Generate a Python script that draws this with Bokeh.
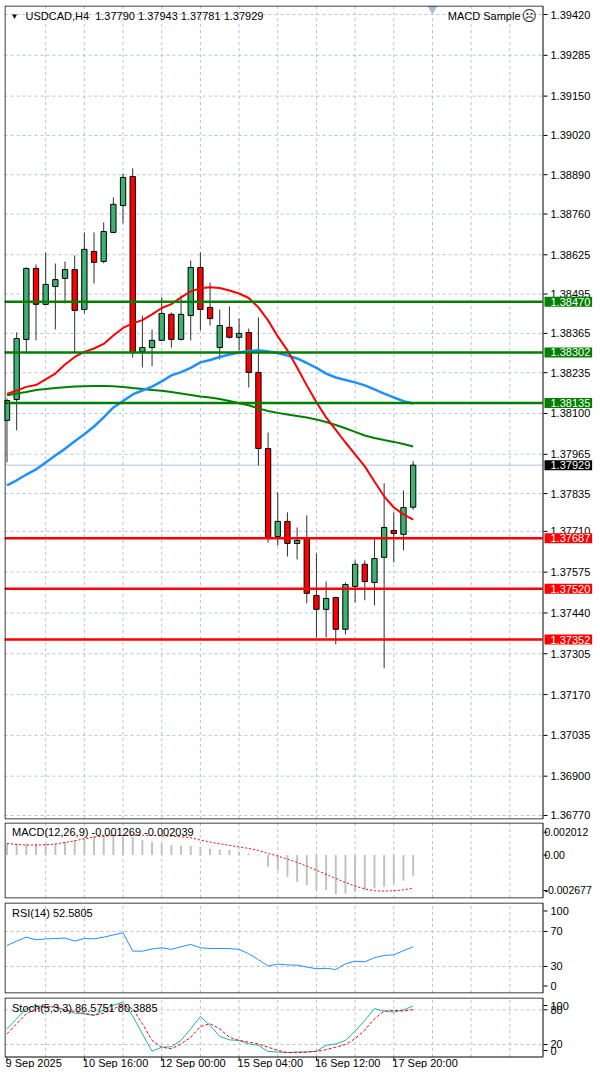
from bokeh.plotting import figure
from bokeh.layouts import column
from bokeh.models import ColumnDataSource, FixedTicker, Label, Range1d, PrintfTickFormatter
from bokeh.embed import file_html
from bokeh.resources import INLINE
from bokeh.core.properties import value

# ---------------- data ----------------
symbol = "USDCAD,H4"
last_ohlc = [1.37790, 1.37943, 1.37781, 1.37929]

opens = [1.38077, 1.38146, 1.38345, 1.38580, 1.38461, 1.38520, 1.38547, 1.38576, 1.38444, 1.38636,
         1.38603, 1.38699, 1.38788, 1.38884, 1.38305, 1.38318, 1.38342, 1.38428, 1.38345, 1.38424,
         1.38583, 1.38451, 1.38318, 1.38385, 1.38352, 1.38368, 1.38236, 1.37984, 1.37693, 1.37743,
         1.37670, 1.37687, 1.37498, 1.37452, 1.37491, 1.37386, 1.37528, 1.37601, 1.37541, 1.37624,
         1.37713, 1.37700, 1.37790]
highs = [1.38150, 1.38368, 1.38583, 1.38593, 1.38633, 1.38596, 1.38603, 1.38623, 1.38699, 1.38699,
         1.38732, 1.38815, 1.38894, 1.38911, 1.38424, 1.38378, 1.38484, 1.38434, 1.38490, 1.38606,
         1.38633, 1.38533, 1.38444, 1.38454, 1.38414, 1.38381, 1.38418, 1.38037, 1.37839, 1.37773,
         1.37723, 1.37763, 1.37637, 1.37544, 1.37494, 1.37541, 1.37614, 1.37614, 1.37687, 1.37869,
         1.37773, 1.37845, 1.37943]
lows = [1.37938, 1.38044, 1.38302, 1.38342, 1.38458, 1.38378, 1.38464, 1.38302, 1.38431, 1.38530,
        1.38597, 1.38696, 1.38729, 1.38285, 1.38252, 1.38256, 1.38339, 1.38318, 1.38342, 1.38342,
        1.38375, 1.38391, 1.38279, 1.38348, 1.38309, 1.38186, 1.37928, 1.37673, 1.37663, 1.37627,
        1.37617, 1.37472, 1.37359, 1.37359, 1.37336, 1.37369, 1.37475, 1.37482, 1.37465, 1.37257,
        1.37607, 1.37647, 1.37781]
closes = [1.38143, 1.38348, 1.38580, 1.38461, 1.38527, 1.38543, 1.38576, 1.38441, 1.38643, 1.38600,
          1.38702, 1.38792, 1.38881, 1.38302, 1.38318, 1.38342, 1.38431, 1.38345, 1.38428, 1.38583,
          1.38444, 1.38414, 1.38391, 1.38352, 1.38365, 1.38236, 1.37984, 1.37690, 1.37743, 1.37670,
          1.37680, 1.37505, 1.37452, 1.37488, 1.37386, 1.37534, 1.37601, 1.37544, 1.37620, 1.37723,
          1.37703, 1.37789, 1.37929]

ma_red = [1.38165, 1.38176, 1.38188, 1.38194, 1.38213, 1.38232, 1.38262, 1.38287, 1.38304, 1.38315,
          1.38330, 1.38358, 1.38383, 1.38398, 1.38409, 1.38428, 1.38449, 1.38462, 1.38484, 1.38504,
          1.38514, 1.38518, 1.38515, 1.38507, 1.38497, 1.38482, 1.38451, 1.38408, 1.38355, 1.38309,
          1.38252, 1.38193, 1.38137, 1.38087, 1.38046, 1.38004, 1.37965, 1.37925, 1.37875, 1.37826,
          1.37789, 1.37766, 1.37749]
ma_blue = [1.37862, 1.37879, 1.37898, 1.37915, 1.37938, 1.37961, 1.37983, 1.38008, 1.38031, 1.38057,
           1.38087, 1.38120, 1.38141, 1.38163, 1.38176, 1.38189, 1.38206, 1.38226, 1.38237, 1.38251,
           1.38269, 1.38277, 1.38287, 1.38295, 1.38302, 1.38307, 1.38309, 1.38305, 1.38300, 1.38292,
           1.38282, 1.38267, 1.38251, 1.38232, 1.38219, 1.38211, 1.38203, 1.38193, 1.38180, 1.38166,
           1.38153, 1.38141, 1.38133]
ma_green = [1.38160, 1.38166, 1.38171, 1.38178, 1.38181, 1.38184, 1.38187, 1.38189, 1.38190, 1.38191,
            1.38191, 1.38190, 1.38188, 1.38184, 1.38181, 1.38178, 1.38175, 1.38171, 1.38166, 1.38161,
            1.38156, 1.38153, 1.38148, 1.38141, 1.38134, 1.38127, 1.38117, 1.38108, 1.38102, 1.38097,
            1.38092, 1.38087, 1.38080, 1.38072, 1.38062, 1.38051, 1.38039, 1.38027, 1.38019, 1.38012,
            1.38006, 1.37999, 1.37991]

green_levels = [1.38470, 1.38302, 1.38135]
red_levels = [1.37687, 1.37520, 1.37352]
bid = 1.37929

price_ticks = [1.39420, 1.39285, 1.39150, 1.39020, 1.38890, 1.38760, 1.38625, 1.38495, 1.38365,
               1.38235, 1.38100, 1.37965, 1.37835, 1.37710, 1.37575, 1.37440, 1.37305, 1.37170,
               1.37035, 1.36900, 1.36770]
price_lo, price_hi = 1.367567, 1.394498

macd_main = [0.00072, 0.00072, 0.00072, 0.00072, 0.00072, 0.00072, 0.00082, 0.00093, 0.00103, 0.00117,
             0.00123, 0.00123, 0.00123, 0.00113, 0.00093, 0.00082, 0.00072, 0.00062, 0.00056, 0.00056,
             0.00051, 0.00041, 0.00035, 0.00031, 0.00021, 0.00010, -0.00002, -0.00072, -0.00093, -0.00134,
             -0.00165, -0.00185, -0.00216, -0.00216, -0.00241, -0.00237, -0.00226, -0.00216, -0.00206,
             -0.00195, -0.00175, -0.00158, -0.001269]
macd_signal = [0.00072, 0.00066, 0.00062, 0.00062, 0.00064, 0.00068, 0.00078, 0.00088, 0.00101, 0.00111,
               0.00117, 0.00121, 0.00123, 0.00123, 0.00123, 0.00121, 0.00119, 0.00117, 0.00113, 0.00107,
               0.00093, 0.00080, 0.00070, 0.00060, 0.00051, 0.00041, 0.00029, 0.00010, -0.00006, -0.00025,
               -0.00045, -0.00068, -0.00093, -0.00119, -0.00144, -0.00169, -0.00191, -0.00208, -0.00220,
               -0.00222, -0.00220, -0.00214, -0.002039]
macd_hi, macd_lo = 0.002012, -0.002677
macd_tick_labels = ["0.002012", "0.00", "-0.002677"]

rsi = [54, 59, 63.5, 60.5, 61.5, 62, 62.5, 59, 62, 61.5, 63.5, 66, 68.5, 47.5, 47.5, 50, 51.4, 49.5,
       52.5, 55.2, 51.4, 50.5, 50.5, 50.5, 49.5, 44.5, 37.7, 30.5, 32.7, 31.8, 31.5, 29.3, 27.4, 27.9,
       26.5, 33, 36, 35.3, 40, 42.6, 43.3, 48, 52.5805]
rsi_levels = [70, 30]
rsi_tick_labels = ["100", "70", "30", "0"]

stoch_main = [47, 64.5, 82, 87.5, 85, 85, 80, 74, 73, 70, 80, 88, 93, 69, 38.5, 8.5, 15.4, 16, 27, 47,
              68.5, 53, 34, 28, 27, 21, 18.5, 8, 7, 6, 7, 7, 8.5, 18.5, 21, 27, 43, 61.6, 82, 77.7,
              76, 80, 86.5751]
stoch_signal = [38.5, 56, 73, 82, 85.6, 85, 80, 77, 74, 71, 74, 82, 87.5, 82, 56, 27, 15.4, 12.5, 21,
                32.5, 51, 56, 47, 32.5, 27, 24, 21, 15.4, 9.7, 6, 6, 7, 8, 11, 15.4, 20, 30, 45, 64.5,
                77.7, 79, 78, 80.3885]
stoch_levels = [80, 20]
stoch_tick_labels = ["100", "80", "20", "0"]

date_ticks = [0, 8, 16, 24, 32, 40]
date_labels = ["9 Sep 2025", "10 Sep 16:00", "12 Sep 00:00", "15 Sep 04:00", "16 Sep 12:00", "17 Sep 20:00"]

# ---------------- styling / geometry ----------------
FONT = "Liberation Sans"
GRID = "#B4C4DC"
BULL = "#3CB371"
BEAR = "#FF0000"
GREEN = "#008000"
RED = "#FF0000"

LEFT = 4                 # page x of the chart's left border
FIG_W = 592
FRAME_W = FIG_W - LEFT   # frame covers chart + price-scale column
PLOT_W = 538             # chart area, left of the price scale
BPP = 1 / 9.67           # bars per pixel
X0 = -0.2585
X_END = X0 + FRAME_W * BPP
x_range = Range1d(X0, X_END)
n = len(opens)
xs = list(range(n))
grid_x = list(range(4, 56, 4))


def xd(px):
    return X0 + px * BPP


XB = xd(PLOT_W)


def yd(lo, hi, fh, px):
    return hi - px * (hi - lo) / fh


def make_fig(fh, lo, hi, top, bottom, label_x=550, font_size="11px"):
    p = figure(frame_width=FRAME_W, frame_height=fh, x_range=x_range, y_range=Range1d(lo, hi),
               output_backend="svg", toolbar_location=None, title=None,
               x_axis_location=None, y_axis_location="right",
               min_border_left=LEFT, min_border_top=top, min_border_bottom=bottom,
               min_border_right=0)
    p.background_fill_color = "white"
    p.border_fill_color = "white"
    p.outline_line_color = None
    p.xgrid.visible = False
    p.ygrid.visible = False
    ax = p.yaxis[0]
    ax.axis_line_color = None
    ax.major_tick_line_color = None
    ax.minor_tick_line_color = None
    ax.major_tick_out = 0
    ax.major_tick_in = 0
    ax.major_label_standoff = label_x - FIG_W
    ax.major_label_text_font = FONT
    ax.major_label_text_font_size = font_size
    ax.major_label_text_color = "black"
    return p


def grid_v(p, lo, hi, fh, plot_h):
    yt, yb = yd(lo, hi, fh, 0.5), yd(lo, hi, fh, plot_h - 0.5)
    gx = [g for g in grid_x if g < XB]
    p.segment(x0=gx, y0=[yb] * len(gx), x1=gx, y1=[yt] * len(gx),
              line_color=GRID, line_dash="3 3", line_width=1, level="underlay")


def border(p, lo, hi, fh, plot_h, yticks):
    yt, yb = yd(lo, hi, fh, 0.5), yd(lo, hi, fh, plot_h - 0.5)
    xl, xr = xd(0.5), xd(PLOT_W + 0.5)
    p.segment(x0=[xl, xl, xl, xr], y0=[yt, yb, yb, yb], x1=[xr, xr, xl, xr], y1=[yt, yb, yt, yt],
              line_color="black", line_width=1)
    k = len(yticks)
    p.segment(x0=[xd(PLOT_W + 1)] * k, y0=yticks, x1=[xd(PLOT_W + 5)] * k, y1=yticks,
              line_color="black", line_width=1)


def hline(p, ys, color, width, dash="solid", level="glyph"):
    k = len(ys)
    p.segment(x0=[xd(0)] * k, y0=ys, x1=[xd(PLOT_W)] * k, y1=ys, line_color=color,
              line_width=width, line_dash=dash, level=level)


def title_label(p, lo, hi, fh, text, px_x, px_top, size="11px", align="left", font=FONT,
                color="black"):
    p.add_layout(Label(x=xd(px_x), y=yd(lo, hi, fh, px_top), text=text, text_font=font,
                       text_font_size=size, text_color=color, text_baseline="middle",
                       text_align=align))


# ---------------- main price panel ----------------
MH = 814
main = make_fig(MH, price_lo, price_hi, 5, 3)
main.yaxis.ticker = FixedTicker(ticks=price_ticks)
main.yaxis.formatter = PrintfTickFormatter(format="%.5f")

grid_v(main, price_lo, price_hi, MH, MH)
hline(main, price_ticks, GRID, 1, "3 3", "underlay")
hline(main, [bid], "#B0C4DE", 1, level="underlay")

src = ColumnDataSource(dict(
    x=xs, o=opens, h=highs, l=lows, c=closes,
    top=[max(o, c) for o, c in zip(opens, closes)],
    bot=[min(o, c) for o, c in zip(opens, closes)],
    color=[BULL if c >= o else BEAR for o, c in zip(opens, closes)],
))
main.segment("x", "h", "x", "l", source=src, line_color="#303030", line_width=1)
main.vbar(x="x", width=0.55, top="top", bottom="bot", fill_color="color", line_color="black",
          line_width=1, source=src)

main.line(xs, ma_green, line_color=GREEN, line_width=2)
main.line(xs, ma_blue, line_color="#1E90FF", line_width=2.5)
main.line(xs, ma_red, line_color=RED, line_width=2)

hline(main, green_levels, GREEN, 2.5)
hline(main, red_levels, RED, 2.5)

main.scatter([n + 1], [yd(price_lo, price_hi, MH, 3.5)], marker="inverted_triangle", size=8,
             fill_color="#A8BCD8", line_color="#A8BCD8")
border(main, price_lo, price_hi, MH, MH, price_ticks)


def price_box(v, bg):
    # box starts 2px right of the chart border, text 6px further in
    main.add_layout(Label(x=XB, y=v, x_offset=2, text=f"{v:.5f}", text_font=FONT,
                          text_font_size="11px", text_color="white", text_baseline="middle",
                          text_align="left", background_fill_color=bg,
                          padding=dict(left=6, right=2, top=1, bottom=1)))


for lv in green_levels:
    price_box(lv, GREEN)
for lv in red_levels:
    price_box(lv, RED)
price_box(bid, "black")

title_label(main, price_lo, price_hi, MH, "\u25BC", 6, 10.5, size="8px")
title_label(main, price_lo, price_hi, MH,
            symbol + "\u00a0\u00a0" + " ".join(f"{v:.5f}" for v in last_ohlc), 21, 10.5)
title_label(main, price_lo, price_hi, MH, "MACD Sample", 516, 10.5, align="right")
title_label(main, price_lo, price_hi, MH, "\u2639", 517, 10.5, size="15px", font="DejaVu Sans",
            color="#333333")

# ---------------- MACD panel ----------------
DH = 76
macd = make_fig(DH, macd_lo, macd_hi, 0, 4, label_x=544, font_size="10.5px")
grid_v(macd, macd_lo, macd_hi, DH, DH)
macd.vbar(x=xs, width=0.2, top=macd_main, bottom=0, fill_color="#C0C0C0", line_color=None)
macd.line(xs, macd_signal, line_color=RED, line_width=1, line_dash="2 2")
macd_ticks = [round(yd(macd_lo, macd_hi, DH, 9.7), 6), 0, round(yd(macd_lo, macd_hi, DH, 68), 6)]
macd.yaxis.ticker = FixedTicker(ticks=macd_ticks)
macd.yaxis.major_label_overrides = dict(zip(macd_ticks, macd_tick_labels))
border(macd, macd_lo, macd_hi, DH, DH, macd_ticks)
title_label(macd, macd_lo, macd_hi, DH,
            f"MACD(12,26,9) {macd_main[-1]:.6f} {macd_signal[-1]:.6f}", 7.5, 9)

# ---------------- RSI panel ----------------
RH = 91
rsi_lo, rsi_hi = -0.9, 103.1
rp = make_fig(RH, rsi_lo, rsi_hi, 0, 4)
grid_v(rp, rsi_lo, rsi_hi, RH, RH)
hline(rp, rsi_levels, "#C0C0C0", 1, "3 3", "underlay")
rp.line(xs, rsi, line_color="#1E90FF", line_width=1)
rsi_ticks = [round(yd(rsi_lo, rsi_hi, RH, 8.5), 2), 70, 30, round(yd(rsi_lo, rsi_hi, RH, 83.5), 2)]
rp.yaxis.ticker = FixedTicker(ticks=rsi_ticks)
rp.yaxis.major_label_overrides = dict(zip(rsi_ticks, rsi_tick_labels))
border(rp, rsi_lo, rsi_hi, RH, RH, rsi_ticks)
title_label(rp, rsi_lo, rsi_hi, RH, f"RSI(14) {rsi[-1]:.4f}", 7.5, 10)

# ---------------- Stochastic panel (plus date row) ----------------
SP = 60                     # plotting height
SH = 71                     # frame incl. date row
st_plot_lo, st_hi = -2.5, 101.3
st_lo = st_plot_lo - (SH - SP) * (st_hi - st_plot_lo) / SP
sp = make_fig(SH, st_lo, st_hi, 0, 0)
grid_v(sp, st_lo, st_hi, SH, SP)
hline(sp, stoch_levels, "#C0C0C0", 1, "3 3", "underlay")
sp.line(xs, stoch_main, line_color="#20B2AA", line_width=1)
sp.line(xs, stoch_signal, line_color=RED, line_width=1, line_dash="3 2")
st_ticks = [round(yd(st_lo, st_hi, SH, 8), 2), 80, 20, round(yd(st_lo, st_hi, SH, 53), 2)]
sp.yaxis.ticker = FixedTicker(ticks=st_ticks)
sp.yaxis.major_label_overrides = dict(zip(st_ticks, stoch_tick_labels))
border(sp, st_lo, st_hi, SH, SP, st_ticks)
title_label(sp, st_lo, st_hi, SH,
            f"Stoch(5,3,3) {stoch_main[-1]:.4f} {stoch_signal[-1]:.4f}", 7.5, 10)

k = len(date_ticks)
sp.segment(x0=date_ticks, y0=[yd(st_lo, st_hi, SH, SP)] * k, x1=date_ticks,
           y1=[yd(st_lo, st_hi, SH, SP + 3)] * k, line_color="black", line_width=1)
for t, lab in zip(date_ticks, date_labels):
    sp.add_layout(Label(x=t, y=yd(st_lo, st_hi, SH, 65.5), x_offset=-1.5, text=lab, text_font=FONT,
                        text_font_size="11px", text_color="black", text_baseline="middle",
                        text_align="left"))

layout = column(main, macd, rp, sp, spacing=0)
open("out.html", "w").write(file_html(layout, INLINE))
